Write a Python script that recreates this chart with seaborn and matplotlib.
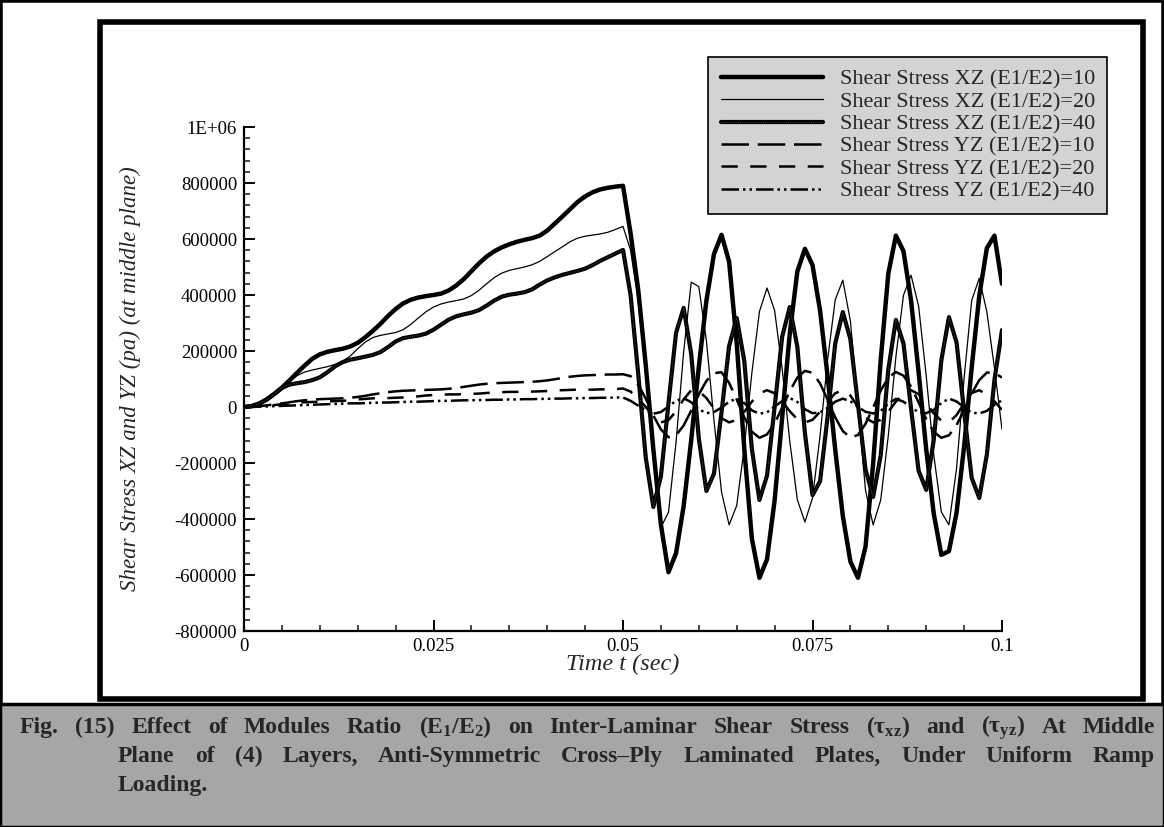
import numpy as np
import matplotlib
matplotlib.use("Agg")
import matplotlib.pyplot as plt
import seaborn as sns
from matplotlib.patches import Rectangle
from matplotlib.ticker import MultipleLocator, FuncFormatter
from matplotlib.legend_handler import HandlerTuple

#%% Data (stress in kPa, one sample every 0.001 s from 0 to 0.1 s)
t = np.arange(101) * 0.001

xz10 = [0, 3, 12, 27, 47, 69, 95, 122, 148, 172,
        188, 197, 203, 208, 216, 229, 249, 272, 297, 325,
        350, 370, 383, 391, 396, 400, 405, 416, 434, 457,
        485, 513, 537, 556, 570, 581, 590, 597, 603, 612,
        630, 655, 680, 706, 732, 752, 767, 777, 783, 787,
        790, 620, 420, 150, -150, -420, -590, -522, -354, -118,
        143, 379, 546, 615, 519, 228, -150, -470, -610, -544,
        -334, -38, 262, 484, 565, 507, 344, 108, -153, -389,
        -552, -610, -498, -202, 168, 476, 612, 557, 381, 124,
        -151, -382, -528, -515, -378, -141, 140, 397, 567, 612,
        440]

xz20 = [0, 3, 12, 27, 46, 68, 92, 112, 125, 132,
        138, 144, 152, 163, 182, 208, 232, 248, 256, 261,
        266, 276, 295, 318, 340, 357, 368, 375, 380, 386,
        398, 417, 440, 462, 478, 488, 494, 500, 508, 520,
        537, 555, 572, 590, 603, 610, 614, 618, 624, 634,
        645, 560, 380, 120, -170, -430, -376, -125, 196, 446,
        430, 237, -47, -304, -421, -352, -144, 122, 341, 425,
        345, 136, -122, -331, -411, -325, -102, 170, 383, 453,
        307, 0, -299, -421, -332, -102, 179, 399, 471, 360,
        112, -172, -375, -421, -220, 103, 380, 460, 340, 140,
        -80]

xz40 = [0, 3, 12, 27, 46, 68, 80, 85, 89, 96,
        106, 124, 145, 160, 169, 174, 180, 186, 196, 214,
        234, 246, 251, 255, 262, 276, 294, 312, 324, 331,
        337, 346, 362, 380, 394, 401, 405, 410, 420, 437,
        452, 463, 472, 479, 486, 494, 507, 522, 535, 548,
        561, 400, 120, -180, -357, -248, 13, 265, 354, 189,
        -112, -300, -238, -19, 218, 318, 165, -150, -332, -245,
        -1, 251, 357, 215, -93, -315, -265, -33, 227, 339,
        242, 9, -224, -321, -172, 134, 311, 227, -5, -228,
        -296, -116, 167, 321, 231, -16, -253, -325, -170, 96,
        275]

yz10 = [0, 1, 3, 6, 9, 13, 17, 21, 24, 26,
        28, 29, 30, 31, 33, 36, 40, 45, 49, 53,
        56, 58, 59, 60, 61, 62, 63, 65, 68, 72,
        76, 80, 83, 85, 86, 87, 88, 89, 90, 92,
        95, 99, 104, 108, 111, 113, 114, 115, 116, 116,
        117, 110, 80, 30, -30, -80, -108, -101, -66, -13,
        45, 93, 121, 124, 86, 27, -37, -88, -110, -98,
        -59, -2, 57, 105, 129, 122, 84, 26, -37, -86,
        -109, -100, -60, -2, 59, 105, 125, 112, 73, 16,
        -43, -89, -110, -101, -65, -11, 48, 96, 123, 122,
        105]

yz20 = [0, 1, 2, 4, 7, 10, 13, 16, 17, 18,
        19, 20, 21, 22, 24, 27, 29, 31, 32, 32,
        33, 34, 36, 38, 41, 43, 44, 45, 45, 46,
        47, 48, 50, 52, 53, 54, 54, 55, 55, 56,
        57, 59, 60, 61, 62, 62, 62, 63, 63, 64,
        66, 55, 30, 0, -30, -55, -47, -15, 27, 60,
        57, 32, -5, -40, -55, -46, -17, 19, 49, 60,
        49, 20, -15, -44, -55, -46, -17, 19, 49, 60,
        41, 0, -39, -55, -46, -17, 19, 49, 60, 46,
        14, -23, -49, -55, -29, 13, 50, 60, 45, 20,
        -10]

yz40 = [0, 0, 1, 2, 3, 4, 5, 6, 7, 8,
        9, 10, 11, 12, 13, 13, 14, 15, 16, 16,
        17, 18, 19, 19, 20, 21, 22, 22, 23, 24,
        24, 25, 25, 26, 26, 27, 27, 28, 28, 29,
        29, 30, 30, 31, 31, 32, 32, 33, 33, 34,
        34, 22, 5, -12, -24, -18, 2, 22, 32, 17,
        -8, -22, -18, -2, 19, 30, 14, -12, -24, -19,
        2, 21, 32, 18, -8, -22, -19, -3, 19, 30,
        20, 0, -17, -23, -14, 12, 29, 19, -1, -19,
        -22, -10, 14, 30, 20, -1, -20, -23, -14, 8,
        24]

labels = ["Shear Stress XZ (E1/E2)=10", "Shear Stress XZ (E1/E2)=20",
          "Shear Stress XZ (E1/E2)=40", "Shear Stress YZ (E1/E2)=10",
          "Shear Stress YZ (E1/E2)=20", "Shear Stress YZ (E1/E2)=40"]

caption = ["Fig. (15) Effect of Modules Ratio (E$_\\mathbf{1}$/E$_\\mathbf{2}$) on Inter-Laminar "
           "Shear Stress (\u03c4$_\\mathbf{xz}$) and (\u03c4$_\\mathbf{yz}$) At Middle",
           "Plane of (4) Layers, Anti-Symmetric Cross\u2013Ply Laminated Plates, Under Uniform Ramp",
           "Loading."]

#%% Style
sns.set_style("white")
plt.rcParams['font.family'] = ['Liberation Serif', 'DejaVu Serif']
plt.rcParams['mathtext.fontset'] = 'custom'
plt.rcParams['mathtext.rm'] = 'Liberation Serif'
plt.rcParams['mathtext.it'] = 'Liberation Serif:italic'
plt.rcParams['mathtext.bf'] = 'Liberation Serif:bold'

W, H = 1164, 827
fig = plt.figure(figsize=(W / 100, H / 100), dpi=100)

# frames: outer border, caption band, inner panel
fig.add_artist(Rectangle((0, 0), 1, 1, transform=fig.transFigure,
                         fill=False, ec="black", lw=4, zorder=0))
fig.add_artist(Rectangle((0, 0), 1, 123 / H, transform=fig.transFigure,
                         fc="#a6a6a6", ec="black", lw=2.5, zorder=0))
fig.add_artist(Rectangle((100 / W, 1 - 699 / H), 1043 / W, 677 / H,
                         transform=fig.transFigure, fill=False, ec="black",
                         lw=4, zorder=0))

ax = fig.add_axes([244 / W, 1 - 631 / H, 758 / W, 504 / H])
ax.patch.set_alpha(0)

#%% Lines
series = [(xz10, 3.2, "-"),
          (xz20, 0.9, "-"),
          (xz40, 3.0, "-"),
          (yz10, 1.8, (0, (11, 3.5))),
          (yz20, 1.8, (0, (6.5, 5))),
          (yz40, 1.8, (0, (7, 1.6, 1, 1.6, 1, 1.6)))]

handles = []
for i, (vals, lw, ls) in enumerate(series):
    y = np.array(vals) * 1000.0
    sns.lineplot(x=t, y=y, ax=ax, color="black", linewidth=lw,
                 linestyle=ls, legend=False)
    h = ax.lines[-1]
    if i == 2:  # grainy texture of the E1/E2=40 curve
        sns.lineplot(x=t, y=y, ax=ax, color="#555555", linewidth=0.6,
                     linestyle=(0, (1, 1.5)), legend=False)
        h = (h, ax.lines[-1])
    handles.append(h)

#%% Axes
ax.set_xlim(0, 0.1)
ax.set_ylim(-800000, 1000000)
ax.xaxis.set_major_locator(MultipleLocator(0.025))
ax.xaxis.set_minor_locator(MultipleLocator(0.005))
ax.yaxis.set_major_locator(MultipleLocator(200000))
ax.yaxis.set_minor_locator(MultipleLocator(40000))
ax.xaxis.set_major_formatter(FuncFormatter(lambda v, p: f"{v:g}"))
ax.yaxis.set_major_formatter(FuncFormatter(
    lambda v, p: "1E+06" if abs(v - 1e6) < 1 else f"{int(round(v))}"))
sns.despine(ax=ax)
for s in ["left", "bottom"]:
    ax.spines[s].set_linewidth(1.6)
    ax.spines[s].set_color("black")
ax.tick_params(which="major", direction="in", length=8, width=1.4,
               labelsize=13.5, pad=5, colors="black")
ax.tick_params(which="minor", direction="in", length=4.5, width=1.2)
ax.tick_params(axis="x", bottom=True, which="both")
ax.tick_params(axis="y", left=True, which="both")

ax.set_xlabel("Time t (sec)", fontsize=17.5, style="italic")
ax.set_ylabel("Shear Stress XZ and YZ (pa) (at middle plane)",
              fontsize=16.5, style="italic")
ax.xaxis.set_label_coords(0.5, -0.046)
ax.yaxis.set_label_coords(-0.136, 0.5)

#%% Legend
leg = fig.legend(handles, labels, loc="upper right",
                 bbox_to_anchor=(1107 / W, 1 - 57 / H),
                 handler_map={tuple: HandlerTuple(ndivide=1, pad=0)},
                 frameon=True, fancybox=False, facecolor="#d3d3d3",
                 edgecolor="black", framealpha=1, fontsize=16,
                 handlelength=4.6, handletextpad=0.75, labelspacing=0.08,
                 borderpad=0.55, borderaxespad=0)
leg.get_frame().set_linewidth(1.2)

#%% Caption (justified lines)
r = fig.canvas.get_renderer()


def caption_line(text, x0, x1, ybase, justify=True):
    words = text.split(" ")
    txts = [fig.text(0, ybase, w, fontsize=17, fontweight="bold",
                     va="baseline", ha="left") for w in words]
    widths = [tx.get_window_extent(r).width for tx in txts]
    gap = (x1 - x0 - sum(widths)) / max(len(words) - 1, 1)
    if not justify:
        gap = 0.25 * 17 * 100 / 72
    x = x0
    for tx, w in zip(txts, widths):
        tx.set_x(x / W)
        x += w + gap


caption_line(caption[0], 20, 1155, 1 - 733 / H)
caption_line(caption[1], 118, 1155, 1 - 762 / H)
caption_line(caption[2], 118, 1155, 1 - 791 / H, justify=False)

fig.savefig("out.png", dpi=100)
